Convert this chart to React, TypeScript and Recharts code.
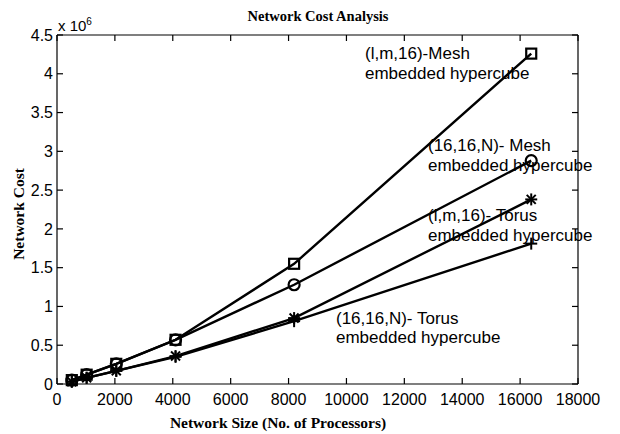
import React from 'react';
import { LineChart, Line, XAxis, YAxis, Customized } from 'recharts';

// network size (number of processors)
const processors = [512, 1024, 2048, 4096, 8192, 16384];

// network cost
const meshLm16 = [50000, 120000, 260000, 570000, 1550000, 4260000];
const meshN = [50000, 120000, 260000, 570000, 1280000, 2880000];
const torusLm16 = [30000, 80000, 170000, 360000, 850000, 2380000];
const torusN = [30000, 80000, 170000, 350000, 810000, 1810000];

const xTicks = [0, 2000, 4000, 6000, 8000, 10000, 12000, 14000, 16000, 18000];
const yTicks = [0, 500000, 1000000, 1500000, 2000000, 2500000, 3000000, 3500000, 4000000, 4500000];

const data = processors.map((n, i) => ({
  n,
  meshLm16: meshLm16[i],
  meshN: meshN[i],
  torusLm16: torusLm16[i],
  torusN: torusN[i],
}));

const sans = 'Liberation Sans, Arial, sans-serif';
const serif = 'Liberation Serif, Times New Roman, serif';

const SquareDot = (p: any) => (
  <rect key={p.index} x={p.cx - 5} y={p.cy - 5} width={10} height={10}
    fill="none" stroke="#000" strokeWidth={2.2} />
);
const CircleDot = (p: any) => (
  <circle key={p.index} cx={p.cx} cy={p.cy} r={5.5} fill="none" stroke="#000" strokeWidth={2.2} />
);
const StarDot = (p: any) => (
  <g key={p.index} stroke="#000" strokeWidth={2}>
    <line x1={p.cx - 6} y1={p.cy} x2={p.cx + 6} y2={p.cy} />
    <line x1={p.cx} y1={p.cy - 6} x2={p.cx} y2={p.cy + 6} />
    <line x1={p.cx - 4.5} y1={p.cy - 4.5} x2={p.cx + 4.5} y2={p.cy + 4.5} />
    <line x1={p.cx - 4.5} y1={p.cy + 4.5} x2={p.cx + 4.5} y2={p.cy - 4.5} />
  </g>
);
const PlusDot = (p: any) => (
  <g key={p.index} stroke="#000" strokeWidth={2}>
    <line x1={p.cx - 6} y1={p.cy} x2={p.cx + 6} y2={p.cy} />
    <line x1={p.cx} y1={p.cy - 6} x2={p.cx} y2={p.cy + 6} />
  </g>
);

const Annotations = () => (
  <g fontFamily={sans} fontSize={17} fill="#000">
    <text x={365} y={59}>(l,m,16)-Mesh</text>
    <text x={365} y={79}>embedded hypercube</text>
    <text x={428} y={151}>(16,16,N)- Mesh</text>
    <text x={428} y={171}>embedded hypercube</text>
    <text x={428} y={221}>(l,m,16)- Torus</text>
    <text x={428} y={241}>embedded hypercube</text>
    <text x={336} y={324}>(16,16,N)- Torus</text>
    <text x={336} y={343}>embedded hypercube</text>
    {/* exponent label */}
    <text x={58} y={31} fontSize={15}>x 10<tspan dy={-6} fontSize={10}>6</tspan></text>
    <text x={318} y={21} fontFamily={serif} fontWeight="bold" fontSize={14.5} textAnchor="middle">
      Network Cost Analysis
    </text>
    <text x={278} y={428} fontFamily={serif} fontWeight="bold" fontSize={15.5} textAnchor="middle">
      Network Size (No. of Processors)
    </text>
    <text x={24} y={214} fontFamily={serif} fontWeight="bold" fontSize={15.5} textAnchor="middle"
      transform="rotate(-90 24 214)">
      Network Cost
    </text>
  </g>
);

export default function App() {
  const axisLine = { stroke: '#000', strokeWidth: 1.2 };
  const tickStyle = { fill: '#000', fontFamily: sans, fontSize: 16 };
  const noLabel = () => <g />;
  return (
    <div style={{ position: 'absolute', left: 0, top: 0, background: '#fff' }}>
      <LineChart width={620} height={434} data={data}
        margin={{ top: 34, right: 41, bottom: 0, left: 0 }}>
        <XAxis xAxisId="b" type="number" dataKey="n" domain={[0, 18000]} ticks={xTicks}
          interval={0} height={50} axisLine={axisLine} tickLine={axisLine}
          tickSize={-6} tickMargin={16} tick={tickStyle} />
        <XAxis xAxisId="t" orientation="top" type="number" dataKey="n" domain={[0, 18000]}
          ticks={xTicks} interval={0} height={1} axisLine={axisLine} tickLine={axisLine}
          tickSize={-6} tick={noLabel} />
        <YAxis yAxisId="l" type="number" domain={[0, 4500000]} ticks={yTicks} interval={0}
          width={57} axisLine={axisLine} tickLine={axisLine} tickSize={-6} tickMargin={10}
          tick={tickStyle} tickFormatter={(v: number) => String(v / 1000000)} />
        <YAxis yAxisId="r" orientation="right" type="number" domain={[0, 4500000]} ticks={yTicks}
          interval={0} width={1} axisLine={axisLine} tickLine={axisLine} tickSize={-6}
          tick={noLabel} />
        {/* invisible series so the top and right frame axes get drawn */}
        <Line xAxisId="t" yAxisId="r" dataKey="meshLm16" stroke="none" dot={false}
          activeDot={false} isAnimationActive={false} />
        <Line xAxisId="b" yAxisId="l" dataKey="meshLm16" stroke="#000" strokeWidth={2.4}
          dot={SquareDot} isAnimationActive={false} />
        <Line xAxisId="b" yAxisId="l" dataKey="meshN" stroke="#000" strokeWidth={2.4}
          dot={CircleDot} isAnimationActive={false} />
        <Line xAxisId="b" yAxisId="l" dataKey="torusLm16" stroke="#000" strokeWidth={2.4}
          dot={StarDot} isAnimationActive={false} />
        <Line xAxisId="b" yAxisId="l" dataKey="torusN" stroke="#000" strokeWidth={2.4}
          dot={PlusDot} isAnimationActive={false} />
        <Customized component={Annotations} />
      </LineChart>
    </div>
  );
}
